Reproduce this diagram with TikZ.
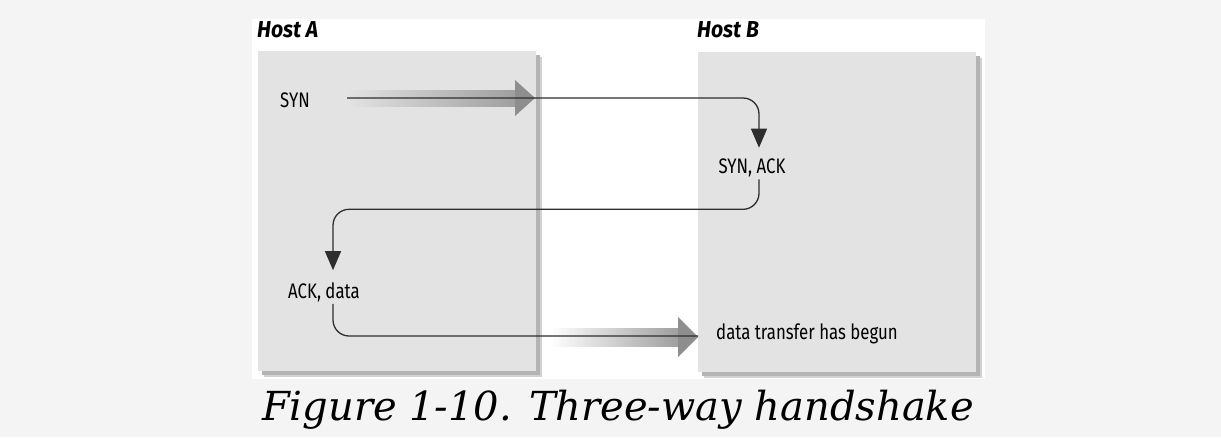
\documentclass[tikz,border=0pt]{standalone}
\usepackage{fontspec}
\usetikzlibrary{arrows.meta,positioning,shadows}
\newfontfamily\labelfont{Fira Sans}[FakeStretch=0.8]
\newfontfamily\hostfont{Fira Sans}[FakeStretch=0.92]
\newfontfamily\capfont{DejaVu Serif}
\definecolor{pagegray}{HTML}{F4F4F4}
\definecolor{boxgray}{HTML}{E3E3E3}
\definecolor{shadowdark}{HTML}{B4B4B4}
\definecolor{shadowlight}{HTML}{D2D2D2}
\definecolor{headgray}{HTML}{8E8E8E}
\definecolor{linegray}{HTML}{2E2E2E}
\tikzset{
  hostbox/.style={fill=boxgray, minimum width=278pt, minimum height=320pt,
    anchor=north west, inner sep=0pt, outer sep=0pt,
    drop shadow={shadow xshift=6pt, shadow yshift=-6pt, fill=shadowlight, opacity=1},
    drop shadow={shadow xshift=4pt, shadow yshift=-4pt, fill=shadowdark, opacity=1}},
  hostlabel/.style={font=\hostfont\bfseries\itshape\fontsize{23}{23}\selectfont,
    anchor=base west, inner sep=0pt},
  msg/.style={font=\labelfont\fontsize{21}{21}\selectfont, inner sep=2pt},
  conn/.style={draw=linegray, line width=1.3pt, rounded corners=16pt},
  tip/.style={-{Triangle[length=19pt,width=16pt]}}
}
\begin{document}
\begin{tikzpicture}[x=1pt,y=-1pt]
  \useasboundingbox (0,0) rectangle (1221,437);
  \fill[pagegray] (0,0) rectangle (1221,437);
  \fill[white] (252,19) rectangle (985,379);

  % hosts
  \node (hostA) [hostbox] at (258,51) {};
  \node (hostB) [hostbox] at (698,52) {};
  \node (labA) [hostlabel] at (257,37) {Host A};
  \node (labB) [hostlabel] at (697,37) {Host B};

  % messages
  \node (syn) [msg] at (295,100) {SYN};
  \node (synack) [msg] at (752,168) {SYN, ACK};
  \node (ackdata) [msg] at (324,292) {ACK, data};
  \node (begun) [msg, anchor=west] at (714,334) {data transfer has begun};

  % fat arrows
  \shade[left color=boxgray, right color=headgray!85] (347,90) rectangle (516,106);
  \fill[headgray] (515,80) -- (535,98) -- (515,116) -- cycle;
  \shade[left color=white, right color=headgray!85] (550,328) rectangle (679,346);
  \fill[headgray] (678,317) -- (698,337) -- (678,357) -- cycle;

  \coordinate (synStart) at (347,98);
  \coordinate (dataTip) at (698,336);

  % connectors
  \draw[conn,tip] (synStart) -| ([xshift=7pt,yshift=9pt]synack.north);
  \draw[conn,tip] ([xshift=7pt]synack.south) -- ++(0,30) -| ([xshift=9pt,yshift=10pt]ackdata.north);
  \draw[conn] ([xshift=9pt]ackdata.south) |- (dataTip);

  % caption
  \node (caption) [font=\capfont\itshape\fontsize{40}{40}\selectfont, anchor=base, inner sep=0pt]
    at (618,420) {Figure 1-10. Three-way handshake};
\end{tikzpicture}
\end{document}
